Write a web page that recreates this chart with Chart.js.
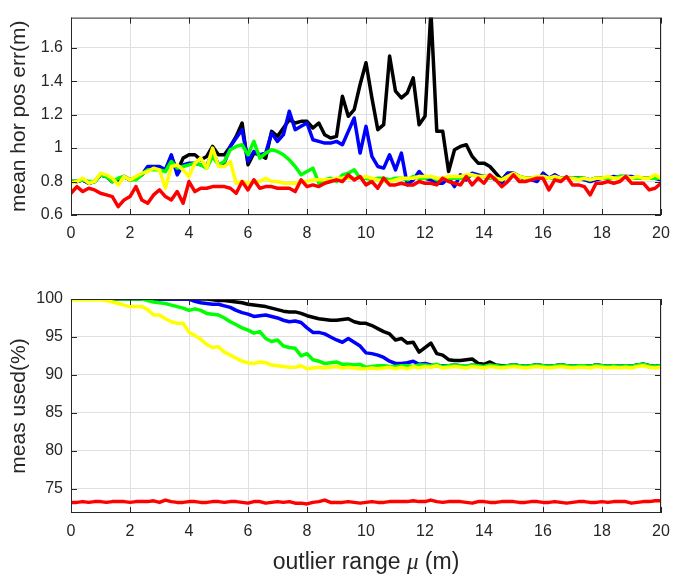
<!DOCTYPE html>
<html>
<head>
<meta charset="utf-8">
<script src="https://cdn.jsdelivr.net/npm/chart.js@4.4.1/dist/chart.umd.min.js"></script>
<style>
  body { margin: 0; background: #fff; width: 694px; height: 580px; overflow: hidden; position: relative; }
  canvas { position: absolute; left: 0; }
  #errChart { top: 0; }
  #usedChart { top: 262px; }
</style>
</head>
<body>
<canvas id="errChart" width="694" height="262"></canvas>
<canvas id="usedChart" width="694" height="318"></canvas>
<script>
// outlier range mu (m), one sample every 0.2 m
const mu = [
  0, 0.2, 0.4, 0.6, 0.8, 1, 1.2, 1.4, 1.6, 1.8,
  2, 2.2, 2.4, 2.6, 2.8, 3, 3.2, 3.4, 3.6, 3.8,
  4, 4.2, 4.4, 4.6, 4.8, 5, 5.2, 5.4, 5.6, 5.8,
  6, 6.2, 6.4, 6.6, 6.8, 7, 7.2, 7.4, 7.6, 7.8,
  8, 8.2, 8.4, 8.6, 8.8, 9, 9.2, 9.4, 9.6, 9.8,
  10, 10.2, 10.4, 10.6, 10.8, 11, 11.2, 11.4, 11.6, 11.8,
  12, 12.2, 12.4, 12.6, 12.8, 13, 13.2, 13.4, 13.6, 13.8,
  14, 14.2, 14.4, 14.6, 14.8, 15, 15.2, 15.4, 15.6, 15.8,
  16, 16.2, 16.4, 16.6, 16.8, 17, 17.2, 17.4, 17.6, 17.8,
  18, 18.2, 18.4, 18.6, 18.8, 19, 19.2, 19.4, 19.6, 19.8,
  20
];

const muTicks = [0, 2, 4, 6, 8, 10, 12, 14, 16, 18, 20];
const errTicks = [0.6, 0.8, 1, 1.2, 1.4, 1.6];
const usedTicks = [75, 80, 85, 90, 95, 100];

// mean horizontal position error (m)
const errBlack = [
  0.80, 0.80, 0.81, 0.79, 0.80, 0.84, 0.83, 0.80, 0.81, 0.83,
  0.81, 0.82, 0.84, 0.88, 0.88, 0.88, 0.87, 0.95, 0.86, 0.94,
  0.96, 0.96, 0.93, 0.95, 1.01, 0.96, 0.96, 1.01, 1.07, 1.15,
  0.90, 0.97, 0.96, 0.94, 1.10, 1.07, 1.12, 1.17, 1.15, 1.16,
  1.16, 1.12, 1.15, 1.08, 1.06, 1.07, 1.31, 1.19, 1.23, 1.38,
  1.51, 1.30, 1.11, 1.14, 1.55, 1.34, 1.30, 1.33, 1.42, 1.14,
  1.19, 1.82, 1.10, 1.10, 0.86, 0.99, 1.01, 1.02, 0.95, 0.91,
  0.91, 0.89, 0.85, 0.81, 0.85, 0.85, 0.83, 0.82, 0.82, 0.82,
  0.83, 0.82, 0.82, 0.82, 0.82, 0.82, 0.82, 0.82, 0.81, 0.82,
  0.82, 0.82, 0.82, 0.83, 0.83, 0.82, 0.82, 0.82, 0.82, 0.83,
  0.82
];
const errBlue = [
  0.80, 0.80, 0.81, 0.79, 0.80, 0.84, 0.83, 0.80, 0.81, 0.83,
  0.81, 0.82, 0.84, 0.89, 0.89, 0.89, 0.87, 0.96, 0.84, 0.90,
  0.91, 0.91, 0.90, 0.89, 0.98, 0.90, 0.91, 1.01, 1.06, 1.11,
  0.92, 0.98, 0.96, 0.97, 1.09, 1.04, 1.08, 1.22, 1.11, 1.13,
  1.15, 1.05, 1.04, 1.03, 1.03, 1.04, 1.02, 1.10, 1.18, 0.97,
  1.13, 0.95, 0.89, 0.88, 0.96, 0.87, 0.97, 0.78, 0.81, 0.86,
  0.82, 0.81, 0.79, 0.79, 0.82, 0.77, 0.84, 0.81, 0.85, 0.84,
  0.83, 0.83, 0.81, 0.79, 0.85, 0.85, 0.83, 0.81, 0.81, 0.80,
  0.85, 0.82, 0.84, 0.82, 0.82, 0.82, 0.82, 0.81, 0.80, 0.81,
  0.82, 0.82, 0.83, 0.82, 0.83, 0.83, 0.82, 0.82, 0.82, 0.82,
  0.81
];
const errGreen = [
  0.80, 0.80, 0.81, 0.80, 0.80, 0.84, 0.83, 0.80, 0.82, 0.83,
  0.81, 0.81, 0.84, 0.87, 0.87, 0.87, 0.86, 0.92, 0.88, 0.89,
  0.90, 0.91, 0.90, 0.88, 0.95, 0.90, 0.92, 0.99, 1.01, 1.02,
  0.96, 1.04, 0.94, 0.97, 0.99, 0.98, 0.96, 0.93, 0.89, 0.84,
  0.86, 0.88, 0.79, 0.81, 0.82, 0.80, 0.84, 0.85, 0.87, 0.82,
  0.82, 0.81, 0.82, 0.82, 0.81, 0.82, 0.82, 0.81, 0.83, 0.82,
  0.82, 0.83, 0.81, 0.82, 0.82, 0.82, 0.82, 0.83, 0.84, 0.83,
  0.83, 0.82, 0.82, 0.81, 0.83, 0.84, 0.83, 0.82, 0.82, 0.82,
  0.83, 0.82, 0.82, 0.82, 0.82, 0.82, 0.82, 0.82, 0.81, 0.82,
  0.82, 0.82, 0.82, 0.83, 0.83, 0.82, 0.82, 0.82, 0.82, 0.82,
  0.82
];
const errYellow = [
  0.79, 0.80, 0.82, 0.79, 0.80, 0.85, 0.84, 0.82, 0.78, 0.83,
  0.81, 0.83, 0.85, 0.86, 0.88, 0.87, 0.76, 0.89, 0.90, 0.87,
  0.83, 0.91, 0.94, 0.88, 1.00, 0.89, 0.89, 0.92, 0.79, 0.80,
  0.79, 0.80, 0.80, 0.82, 0.80, 0.80, 0.79, 0.79, 0.79, 0.80,
  0.80, 0.81, 0.81, 0.81, 0.81, 0.82, 0.82, 0.82, 0.82, 0.82,
  0.83, 0.82, 0.81, 0.80, 0.80, 0.81, 0.82, 0.82, 0.82, 0.83,
  0.83, 0.83, 0.82, 0.82, 0.83, 0.83, 0.83, 0.84, 0.84, 0.83,
  0.83, 0.83, 0.82, 0.81, 0.83, 0.85, 0.83, 0.82, 0.82, 0.83,
  0.83, 0.82, 0.83, 0.82, 0.82, 0.82, 0.81, 0.82, 0.81, 0.82,
  0.82, 0.83, 0.82, 0.82, 0.83, 0.82, 0.83, 0.82, 0.82, 0.84,
  0.82
];
const errRed = [
  0.73, 0.77, 0.74, 0.76, 0.75, 0.73, 0.72, 0.71, 0.65, 0.69,
  0.71, 0.77, 0.69, 0.67, 0.72, 0.75, 0.71, 0.69, 0.74, 0.67,
  0.80, 0.74, 0.76, 0.76, 0.77, 0.77, 0.77, 0.76, 0.73, 0.80,
  0.75, 0.81, 0.76, 0.77, 0.77, 0.76, 0.76, 0.76, 0.74, 0.81,
  0.77, 0.78, 0.77, 0.79, 0.80, 0.81, 0.80, 0.84, 0.81, 0.83,
  0.78, 0.80, 0.76, 0.82, 0.78, 0.78, 0.79, 0.78, 0.78, 0.80,
  0.79, 0.79, 0.78, 0.82, 0.80, 0.79, 0.78, 0.83, 0.78, 0.82,
  0.79, 0.84, 0.81, 0.77, 0.80, 0.84, 0.80, 0.80, 0.81, 0.82,
  0.82, 0.75, 0.81, 0.80, 0.83, 0.78, 0.78, 0.77, 0.72, 0.79,
  0.79, 0.80, 0.79, 0.80, 0.83, 0.79, 0.79, 0.79, 0.75, 0.76,
  0.79
];

// measurements used (%)
const usedBlack = [
  100, 100, 100, 100, 100, 100, 100, 100, 100, 100,
  100, 100, 100, 100, 100, 100, 100, 100, 100, 100,
  100, 100, 100, 100, 99.9, 99.8, 99.8, 99.7, 99.6, 99.5,
  99.3, 99.2, 99.1, 99.0, 98.8, 98.6, 98.4, 98.3, 98.3, 98.1,
  97.8, 97.6, 97.4, 97.3, 97.2, 97.2, 97.3, 97.4, 97.0, 96.8,
  96.8, 96.5, 96.1, 95.7, 95.4, 94.6, 94.8, 94.2, 94.3, 93.0,
  93.6, 94.2, 92.8, 92.6, 92.0, 91.9, 91.9, 92.0, 92.1, 91.5,
  91.4, 91.7, 91.3, 91.2, 91.2, 91.3, 91.2, 91.1, 91.2, 91.3,
  91.2, 91.1, 91.2, 91.3, 91.2, 91.1, 91.2, 91.2, 91.1, 91.3,
  91.2, 91.1, 91.2, 91.1, 91.2, 91.1, 91.3, 91.4, 91.2, 91.1,
  91.2
];
const usedBlue = [
  100, 100, 100, 100, 100, 100, 100, 100, 100, 100,
  100, 100, 100, 100, 100, 100, 100, 100, 100, 100,
  100, 99.7, 99.5, 99.4, 99.3, 99.3, 99.1, 98.9, 98.5, 98.2,
  98.0, 97.7, 97.8, 97.9, 97.7, 97.5, 97.2, 97.0, 97.1, 96.9,
  96.2, 95.6, 95.6, 95.4, 95.0, 94.6, 94.3, 94.8, 94.3, 93.8,
  92.9, 92.8, 92.6, 92.3, 91.8, 91.5, 91.5, 91.6, 91.8, 91.4,
  91.5, 91.3, 91.2, 91.2, 91.2, 91.3, 91.2, 91.1, 91.3, 91.2,
  91.1, 91.3, 91.2, 91.1, 91.2, 91.3, 91.2, 91.1, 91.2, 91.3,
  91.2, 91.1, 91.2, 91.3, 91.2, 91.1, 91.2, 91.2, 91.1, 91.3,
  91.2, 91.1, 91.2, 91.1, 91.2, 91.1, 91.3, 91.4, 91.2, 91.1,
  91.2
];
const usedGreen = [
  100, 100, 100, 100, 100, 100, 100, 100, 100, 100,
  100, 100, 100, 99.8, 99.6, 99.5, 99.4, 99.2, 99.0, 98.8,
  98.5, 98.7, 98.5, 98.1, 98.0, 97.9, 97.5, 97.0, 96.6, 96.2,
  95.9, 95.5, 95.7, 94.8, 94.4, 94.6, 93.8, 93.6, 93.5, 92.5,
  92.8, 92.0, 91.8, 91.5, 91.6, 91.7, 91.4, 91.4, 91.3, 91.4,
  91.0, 91.1, 91.2, 91.2, 91.1, 91.1, 91.2, 91.2, 91.1, 91.3,
  91.3, 91.2, 91.4, 91.1, 91.2, 91.3, 91.2, 91.1, 91.3, 91.2,
  91.1, 91.3, 91.2, 91.1, 91.2, 91.3, 91.2, 91.1, 91.2, 91.3,
  91.2, 91.1, 91.2, 91.3, 91.2, 91.1, 91.2, 91.2, 91.1, 91.3,
  91.2, 91.1, 91.2, 91.1, 91.2, 91.1, 91.3, 91.4, 91.2, 91.1,
  91.2
];
const usedYellow = [
  99.9, 99.9, 99.9, 99.9, 99.9, 99.9, 99.8, 99.6, 99.4, 99.2,
  99.0, 99.0, 99.0, 98.6, 97.9, 97.9, 97.4, 97.0, 96.8, 96.8,
  95.6, 95.2, 94.7, 94.0, 93.6, 93.7, 93.0, 92.6, 92.2, 91.8,
  91.6, 91.5, 91.7, 91.6, 91.3, 91.2, 91.1, 91.0, 91.0, 91.2,
  90.8, 90.9, 91.0, 90.9, 91.0, 91.1, 90.9, 91.0, 90.9, 90.8,
  90.8, 90.9, 90.8, 90.9, 91.0, 90.8, 91.0, 90.8, 91.1, 90.9,
  91.1, 91.0, 91.2, 90.9, 91.0, 91.1, 91.0, 90.9, 91.1, 91.0,
  90.9, 91.1, 91.0, 90.9, 91.0, 91.1, 91.0, 90.9, 91.0, 91.1,
  91.0, 90.9, 91.0, 91.1, 91.0, 90.9, 91.0, 91.0, 90.9, 91.1,
  91.0, 90.9, 91.0, 90.9, 91.0, 90.9, 91.1, 91.2, 91.0, 90.9,
  91.0
];
const usedRed = [
  73.2, 73.2, 73.3, 73.2, 73.3, 73.3, 73.2, 73.3, 73.3, 73.3,
  73.2, 73.3, 73.3, 73.3, 73.4, 73.2, 73.5, 73.3, 73.2, 73.2,
  73.3, 73.3, 73.2, 73.2, 73.3, 73.3, 73.2, 73.3, 73.3, 73.2,
  73.1, 73.3, 73.3, 73.1, 73.2, 73.3, 73.2, 73.3, 73.1, 73.1,
  73.0, 73.2, 73.3, 73.5, 73.2, 73.2, 73.2, 73.3, 73.2, 73.1,
  73.2, 73.3, 73.2, 73.2, 73.3, 73.3, 73.3, 73.3, 73.4, 73.3,
  73.3, 73.5, 73.3, 73.2, 73.3, 73.3, 73.3, 73.2, 73.1, 73.3,
  73.3, 73.2, 73.2, 73.3, 73.3, 73.3, 73.2, 73.2, 73.3, 73.3,
  73.2, 73.2, 73.3, 73.2, 73.1, 73.2, 73.3, 73.3, 73.2, 73.2,
  73.3, 73.2, 73.3, 73.3, 73.3, 73.1, 73.2, 73.3, 73.3, 73.4,
  73.4
];

const textColor = '#262626';
const gridColor = '#dfdfdf';
const fontFamily = '"Liberation Sans", Arial, sans-serif';

// box round the axes with short inward ticks, like matlab
const boxPlugin = {
  id: 'box',
  afterDraw(chart) {
    const { ctx, chartArea: a, scales } = chart;
    ctx.save();
    ctx.strokeStyle = textColor;
    ctx.lineWidth = 1;
    ctx.strokeRect(a.left + 0.5, a.top + 0.5, a.right - a.left - 1, a.bottom - a.top - 1);
    ctx.beginPath();
    scales.x.ticks.forEach(t => {
      const px = Math.round(scales.x.getPixelForValue(t.value)) + 0.5;
      ctx.moveTo(px, a.bottom); ctx.lineTo(px, a.bottom - 6);
      ctx.moveTo(px, a.top); ctx.lineTo(px, a.top + 6);
    });
    scales.y.ticks.forEach(t => {
      const py = Math.round(scales.y.getPixelForValue(t.value)) + 0.5;
      ctx.moveTo(a.left, py); ctx.lineTo(a.left + 6, py);
      ctx.moveTo(a.right, py); ctx.lineTo(a.right - 6, py);
    });
    ctx.stroke();
    ctx.restore();
  }
};

// x title with an italic mu
const muTitlePlugin = {
  id: 'muTitle',
  afterDraw(chart) {
    const { ctx, chartArea: a } = chart;
    const parts = [
      ['outlier range ', '23px ' + fontFamily],
      ['\u03bc', 'italic 23px "Liberation Serif", serif'],
      [' (m)', '23px ' + fontFamily]
    ];
    ctx.save();
    ctx.fillStyle = textColor;
    ctx.textBaseline = 'middle';
    let total = 0;
    parts.forEach(p => { ctx.font = p[1]; total += ctx.measureText(p[0]).width; });
    let x = (a.left + a.right) / 2 - total / 2;
    const y = a.bottom + 50;
    parts.forEach(p => {
      ctx.font = p[1];
      ctx.fillText(p[0], x, y);
      x += ctx.measureText(p[0]).width;
    });
    ctx.restore();
  }
};

function line(data, color) {
  return {
    data: data,
    borderColor: color,
    backgroundColor: color,
    borderWidth: 3.5,
    pointRadius: 0,
    tension: 0,
    fill: false,
    borderJoinStyle: 'round'
  };
}

function makeChart(id, datasets, yMin, yMax, yTicks, yTitle, padTop, xHeight, extraPlugins) {
  const ctx = document.getElementById(id).getContext('2d');
  return new Chart(ctx, {
    type: 'line',
    data: { labels: mu, datasets: datasets },
    options: {
      responsive: false,
      animation: false,
      layout: { padding: { top: padTop, right: 33, left: 0, bottom: 0 } },
      plugins: { legend: { display: false }, tooltip: { enabled: false } },
      scales: {
        x: {
          type: 'linear',
          min: 0,
          max: 20,
          afterBuildTicks: s => { s.ticks = muTicks.map(v => ({ value: v })); },
          afterFit: s => { s.height = xHeight; },
          grid: { color: gridColor, drawTicks: false },
          border: { display: false },
          ticks: {
            padding: 9,
            color: textColor,
            font: { family: fontFamily, size: 16 },
            maxRotation: 0,
            callback: v => String(v)
          }
        },
        y: {
          min: yMin,
          max: yMax,
          afterBuildTicks: s => { s.ticks = yTicks.map(v => ({ value: v })); },
          afterFit: s => { s.width = 71; },
          grid: { color: gridColor, drawTicks: false },
          border: { display: false },
          ticks: {
            padding: 8,
            color: textColor,
            font: { family: fontFamily, size: 16 },
            callback: v => String(v)
          },
          title: {
            display: true,
            text: yTitle,
            color: textColor,
            font: { family: fontFamily, size: 21 },
            padding: { top: 7, bottom: 0 }
          }
        }
      }
    },
    plugins: [boxPlugin].concat(extraPlugins)
  });
}

// first dataset is drawn on top
makeChart('errChart', [
  line(errRed, '#ff0000'),
  line(errYellow, '#ffff00'),
  line(errGreen, '#00ff00'),
  line(errBlue, '#0000ff'),
  line(errBlack, '#000000')
], 0.6, 1.78, errTicks, 'mean hor pos err(m)', 2, 47, []);

makeChart('usedChart', [
  line(usedRed, '#ff0000'),
  line(usedYellow, '#ffff00'),
  line(usedGreen, '#00ff00'),
  line(usedBlue, '#0000ff'),
  line(usedBlack, '#000000')
], 71.8, 100, usedTicks, 'meas used(%)', 37, 67, [muTitlePlugin]);
</script>
</body>
</html>
